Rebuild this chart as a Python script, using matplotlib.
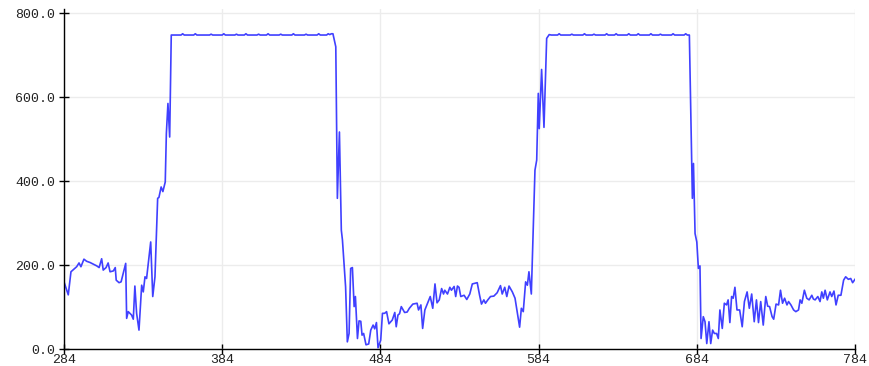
import numpy as np
import matplotlib.pyplot as plt

# rise from idle to saturation
ramp_up_1 = [(284, 160), (286.7, 129), (288.4, 184), (292, 196), (293.5, 205), (294.7, 196),
             (296.6, 214), (298.3, 209), (300.5, 206), (302.6, 202), (304.7, 198), (306.2, 194),
             (307.8, 215), (308.8, 188), (310.6, 194), (311.9, 205), (313.1, 184), (315.2, 186),
             (316.4, 194), (317, 164), (318.8, 158), (320.1, 160), (323, 204), (323.6, 73),
             (324.6, 89), (326.7, 81), (327.8, 71), (328.8, 150), (329.9, 85), (331.4, 45),
             (333.1, 152), (334.1, 136), (335.2, 172), (336.2, 168), (337.3, 204), (338.8, 255),
             (340.1, 125), (341.5, 172), (343.2, 359), (344, 361), (345.4, 386), (346.5, 375),
             (348, 398), (348.7, 513), (349.7, 585), (350.8, 505), (351.8, 748)]

plateau_1 = [(352, 748), (358, 748), (359, 751), (360, 748), (366, 748), (367, 751), (368, 748),
             (376, 748), (377, 750), (378, 748), (384, 748), (385, 751), (386, 748), (392, 748),
             (393, 750), (394, 748), (398, 748), (399, 751), (400, 748), (406, 748), (407, 750),
             (408, 748), (412, 748), (413, 751), (414, 748), (420, 748), (421, 750), (422, 748),
             (428, 748), (429, 751), (430, 748), (436, 748), (437, 750), (438, 748), (444, 748),
             (445, 751), (446, 748), (450, 748), (451, 751), (452, 749), (453, 751), (454, 751)]

drop_1 = [(455.8, 720), (456.8, 359), (458.1, 517), (459.3, 283), (460, 260), (462, 148),
          (463.1, 17), (464.2, 37), (465.2, 192), (466.3, 194), (467.4, 101), (468.2, 125),
          (469.5, 25), (470.5, 67), (471.6, 66), (472.4, 33), (473.4, 37), (474.9, 10),
          (476.6, 12), (477.9, 45), (479.4, 57), (480.4, 48), (481.5, 63), (482.5, 3),
          (484.2, 21), (485.3, 85), (486.7, 85), (487.9, 89), (489.4, 60), (491.5, 69),
          (493.1, 87), (494, 53), (495.1, 81), (496.1, 84), (497.2, 101), (499.3, 87),
          (500.9, 88), (502.3, 97), (504.5, 107), (507.2, 109), (508.1, 93), (509.6, 105),
          (510.7, 49), (512.1, 93), (513.8, 109), (515.5, 125), (517.1, 97), (518.5, 155),
          (519.8, 110), (521.2, 117), (522.7, 144), (523.9, 131), (524.7, 140), (526.4, 131),
          (527.9, 147), (528.9, 140), (530.6, 149), (531.6, 125), (532.7, 150), (533.7, 147),
          (534.8, 125), (536.9, 128), (538.6, 118), (540.5, 131), (542.1, 155), (545.2, 158),
          (546.7, 128), (547.9, 107), (549.4, 117), (550.4, 109), (551.9, 117), (553.6, 125),
          (555.7, 126), (557.8, 134), (559.9, 151), (561, 131), (562.6, 147), (563.9, 125),
          (565.3, 150), (567.4, 136), (569.1, 121), (570.6, 85), (572, 52), (573.1, 97),
          (574.3, 89), (575.8, 160), (576.9, 152), (577.9, 184), (579.4, 131), (581.7, 426),
          (582.8, 450), (583.8, 609), (584.4, 525), (585.9, 666), (587.4, 528), (589.1, 740),
          (590.7, 749)]

plateau_2 = [(592, 748), (596, 748), (597, 751), (598, 748), (604, 748), (605, 750), (606, 748),
             (612, 748), (613, 751), (614, 748), (618, 748), (619, 750), (620, 748), (626, 748),
             (627, 751), (628, 748), (632, 748), (633, 751), (634, 748), (640, 748), (641, 751),
             (642, 748), (646, 748), (647, 751), (648, 748), (654, 748), (655, 751), (656, 748),
             (660, 748), (661, 750), (662, 748), (668, 748), (669, 751), (670, 748), (676, 748),
             (677, 751), (678, 748), (679.3, 748)]

drop_2 = [(681.2, 359), (681.9, 442), (682.9, 275), (684, 255), (685, 192), (686, 198),
          (686.7, 25), (688.1, 77), (689.2, 65), (690.3, 13), (691.7, 65), (692.8, 13),
          (694, 45), (695.1, 37), (696.5, 37), (697.6, 25), (698.6, 93), (700.1, 49),
          (701.4, 109), (702.8, 105), (703.8, 117), (704.9, 63), (706, 125), (707, 121),
          (708.1, 147), (709.4, 93), (711.1, 93), (712.7, 53), (714.1, 113), (715.8, 136),
          (717.2, 97), (718.7, 131), (720.3, 65), (721.7, 117), (723, 63), (724.4, 113),
          (726, 57), (727.6, 125), (728.8, 102), (730, 101), (731.6, 77), (732.6, 71),
          (734.1, 107), (735.7, 105), (736.9, 140), (738.2, 109), (739.5, 121), (741, 105),
          (742, 113), (743.5, 105), (745.2, 93), (746.6, 89), (748.3, 93), (749.3, 117),
          (750.4, 109), (752, 140), (753.5, 121), (755, 117), (756.7, 128), (757.7, 119),
          (758.8, 117), (760.5, 125), (761.9, 113), (763, 136), (764, 121), (765.1, 140),
          (766.5, 117), (768.2, 136), (769.3, 125), (770.7, 138), (772, 105), (773.4, 128),
          (775.1, 128), (776.8, 164), (778.1, 172), (779.8, 166), (781.3, 168), (782.5, 158),
          (784, 166)]

x_ticks = [284, 384, 484, 584, 684, 784]
y_ticks = [0, 200, 400, 600, 800]

pts = np.array(ramp_up_1 + plateau_1 + drop_1 + plateau_2 + drop_2)
x, y = pts[:, 0], pts[:, 1]

fig = plt.figure(figsize=(8.69, 3.66), dpi=100)
ax = fig.add_axes([64 / 869, 17 / 366, 791 / 869, 340 / 366])

ax.plot(x, y, color='#4040ff', linewidth=1.2)

ax.set_xlim(284, 784)
ax.set_ylim(0, 810)
ax.set_xticks(x_ticks)
ax.set_yticks(y_ticks)
ax.set_xticklabels([str(t) for t in x_ticks])
ax.set_yticklabels(['%.1f' % t for t in y_ticks])

ax.grid(True, color='#ececec', linewidth=1)
ax.set_axisbelow(True)
for s in ['top', 'right']:
    ax.spines[s].set_visible(False)
for s in ['left', 'bottom']:
    ax.spines[s].set_color('black')
    ax.spines[s].set_linewidth(1)

ax.tick_params(direction='inout', length=7, width=1,
               labelsize=9.5, labelcolor='#222222')
ax.tick_params(axis='x', pad=0)
ax.tick_params(axis='y', pad=3)
for lab in ax.get_xticklabels() + ax.get_yticklabels():
    lab.set_family('Liberation Mono')

fig.savefig('out.png', dpi=100, facecolor='white')
